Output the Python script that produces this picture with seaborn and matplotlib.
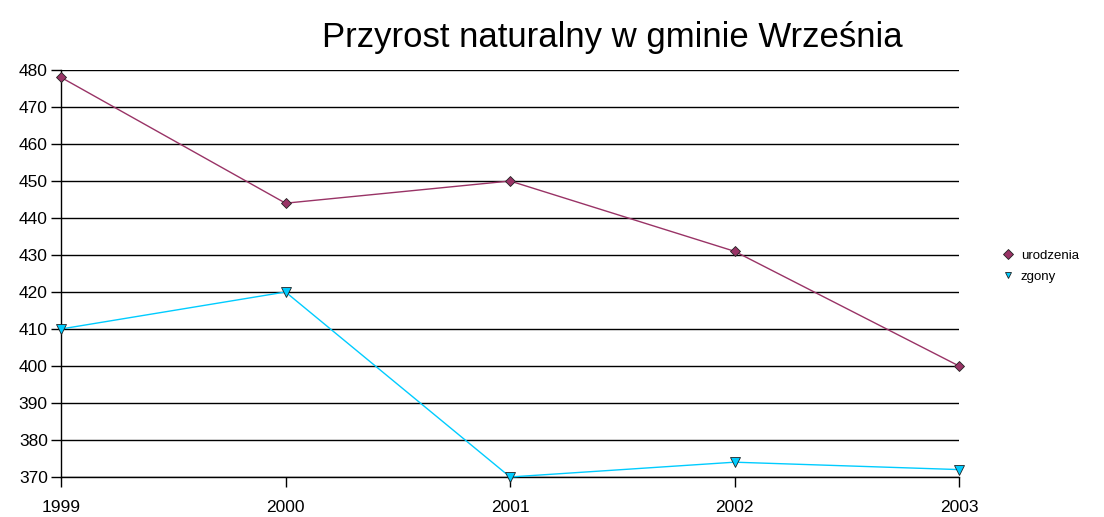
import pandas as pd
import seaborn as sns
import matplotlib.pyplot as plt

years = [1999, 2000, 2001, 2002, 2003]
urodzenia = [478, 444, 450, 431, 400]
zgony = [410, 420, 370, 374, 372]
y_ticks = list(range(370, 481, 10))

df = pd.DataFrame({
    'rok': years * 2,
    'liczba': urodzenia + zgony,
    'seria': ['urodzenia'] * len(years) + ['zgony'] * len(years),
})

sns.set_style('white')
plt.rcParams['font.family'] = ['Liberation Sans', 'DejaVu Sans']
plt.rcParams['text.color'] = 'black'

fig = plt.figure(figsize=(11.04, 5.17), dpi=100)
ax = fig.add_axes([0.0553, 0.0774, 0.8134, 0.7872])

palette = {'urodzenia': '#993366', 'zgony': '#00CCFF'}
markers = {'urodzenia': 'D', 'zgony': 'v'}
sns.lineplot(data=df, x='rok', y='liczba', hue='seria', style='seria',
             palette=palette, markers=markers, dashes=False, linewidth=1,
             markersize=5, markeredgecolor='#222222', markeredgewidth=0.6,
             ax=ax, legend=True)
for ln in ax.lines:
    ln.set_clip_on(False)
    ln.set_zorder(5)
    if ln.get_marker() == 'v':
        ln.set_markersize(7)

ax.set_xlim(1999, 2003)
ax.set_ylim(370, 480)
ax.set_xticks(years)
ax.set_yticks(y_ticks)
ax.set_xlabel('')
ax.set_ylabel('')
ax.yaxis.grid(True, color='black', linewidth=1)
ax.set_axisbelow(True)
for s in ['top', 'right']:
    ax.spines[s].set_visible(False)
for s in ['left', 'bottom']:
    ax.spines[s].set_color('black')
    ax.spines[s].set_linewidth(1)
ax.tick_params(axis='both', direction='out', length=7.5, width=1, color='black',
               labelsize=12.5, labelcolor='black', bottom=True, left=True)
ax.tick_params(axis='x', pad=9)
ax.tick_params(axis='y', pad=2)

fig.suptitle('Przyrost naturalny w gminie Września', x=0.555, y=0.96,
             fontsize=25, color='black')

leg = ax.legend(loc='center left', bbox_to_anchor=(1.035, 0.518), frameon=False,
                fontsize=9.5, handlelength=0.8, handletextpad=0.6, labelspacing=0.7)
for h in leg.legend_handles:
    h.set_linestyle('')
    h.set_markersize(5)
for t in leg.get_texts():
    t.set_color('black')

fig.savefig('out.png', dpi=100)
